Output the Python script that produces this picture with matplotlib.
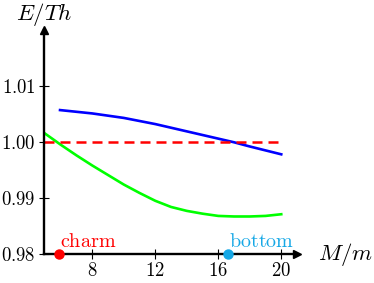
import numpy as np
import matplotlib
matplotlib.use('Agg')
import matplotlib.pyplot as plt

plt.rcParams['mathtext.fontset'] = 'cm'
plt.rcParams['font.family'] = 'serif'
plt.rcParams['font.serif'] = ['DejaVu Serif']

# data
blue_x = [5.95, 8, 10, 12, 14, 16, 17, 18, 19, 20]
blue_y = [1.0057, 1.0051, 1.0043, 1.0032, 1.0019, 1.0006, 0.99995, 0.9992, 0.9985, 0.9978]

green_x = [5.0, 6, 7, 8, 9, 10, 11, 12, 13, 14, 15, 16, 17, 18, 19, 20]
green_y = [1.0015, 0.9995, 0.9976, 0.9958, 0.9941, 0.9924, 0.9909, 0.9895, 0.9884,
           0.9877, 0.9872, 0.9868, 0.9867, 0.9867, 0.9868, 0.9871]

ref_x = [4.9, 20]
ref_y = [1.0, 1.0]

charm_x, bottom_x = 5.9, 16.6
xticks = [8, 12, 16, 20]
yticks = [0.98, 0.99, 1.00, 1.01]

W, H = 374, 283
fig = plt.figure(figsize=(W / 100, H / 100), dpi=100)
ax = fig.add_axes([43.5 / W, (H - 254) / H, (297 - 43.5) / W, (254 - 30) / H])
ax.set_xlim(4.9, 21)
ax.set_ylim(0.98, 1.02)

ax.plot(blue_x, blue_y, color='#0000ff', lw=1.9, solid_joinstyle='round')
ax.plot(green_x, green_y, color='#00ff00', lw=1.9, solid_joinstyle='round')
ax.plot(ref_x, ref_y, color='#ff0000', lw=1.8, dashes=(4, 2.4))

for s in ['top', 'right']:
    ax.spines[s].set_visible(False)
for s in ['left', 'bottom']:
    ax.spines[s].set_linewidth(1.7)
ax.plot(1, 0, '>k', ms=6, transform=ax.transAxes, clip_on=False)
ax.plot(0, 1, '^k', ms=6, transform=ax.transAxes, clip_on=False)

ax.set_xticks(xticks)
ax.set_xticklabels(['$%d$' % t for t in xticks])
ax.set_yticks(yticks)
ax.set_yticklabels(['$%.2f$' % t for t in yticks])
ax.tick_params(direction='inout', length=7, width=0.8, labelsize=13.5, pad=2)

ax.plot([charm_x], [0.98], 'o', color='#ff0000', ms=6.5, clip_on=False, zorder=5)
ax.plot([bottom_x], [0.98], 'o', color='#16a8e6', ms=6.5, clip_on=False, zorder=5)
ax.text(charm_x + 0.05, 0.9805, r'$\mathrm{charm}$', color='#ff0000', fontsize=14.5,
        ha='left', va='bottom')
ax.text(bottom_x + 0.05, 0.9805, r'$\mathrm{bottom}$', color='#16a8e6', fontsize=14.5,
        ha='left', va='bottom')

fig.text(44.5 / W, 1 - 14 / H, r'$E/Th$', fontsize=16.5, ha='center', va='center')
fig.text(346 / W, 1 - 255 / H, r'$M/m$', fontsize=16.5, ha='center', va='center')

fig.savefig('out.png', dpi=100)
